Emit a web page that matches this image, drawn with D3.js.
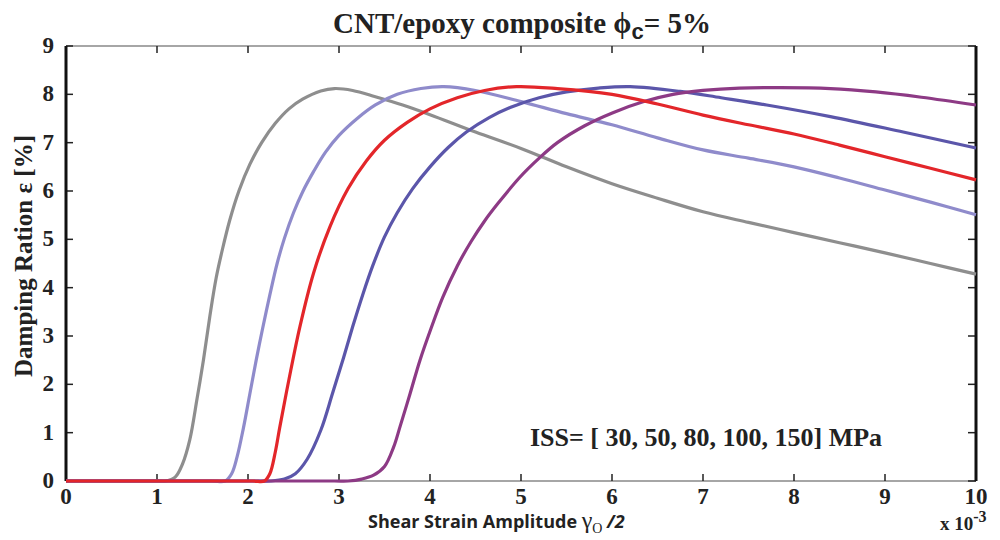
<!DOCTYPE html>
<html>
<head>
<meta charset="utf-8">
<script src="https://cdn.jsdelivr.net/npm/d3@7"></script>
<style>
  body { margin: 0; background: #fff; }
  .serif { font-family: "Times New Roman", "Liberation Serif", Times, serif; font-weight: bold; fill: #222; }
  .tick-label { font-size: 23px; }
</style>
</head>
<body>
<svg id="chart" width="1000" height="540"></svg>
<script>
// strain amplitude in units of 10^-3, damping ratio in %
let x30 = [0, 0.5, 1.0, 1.1, 1.2, 1.28, 1.36, 1.44, 1.51, 1.58, 1.65, 1.72, 1.8, 1.9, 2.02, 2.15, 2.3, 2.45, 2.6, 2.8, 2.95, 3.15, 3.4, 3.7, 4.0, 4.5, 5.0, 5.5, 6.0, 6.5, 7.0, 7.5, 8.0, 8.5, 9.0, 9.5, 10];
let y30 = [0, 0, 0, 0, 0.08, 0.35, 0.85, 1.7, 2.5, 3.4, 4.2, 4.8, 5.4, 6.0, 6.55, 7.0, 7.4, 7.7, 7.9, 8.07, 8.12, 8.08, 7.95, 7.78, 7.58, 7.22, 6.88, 6.5, 6.15, 5.85, 5.57, 5.35, 5.14, 4.93, 4.72, 4.5, 4.28];

let x50 = [0, 0.8, 1.6, 1.75, 1.82, 1.88, 1.95, 2.02, 2.09, 2.16, 2.24, 2.32, 2.4, 2.5, 2.6, 2.72, 2.85, 3.0, 3.2, 3.4, 3.64, 3.9, 4.15, 4.5, 5.0, 5.5, 6.0, 6.5, 7.0, 7.5, 8.0, 8.5, 9.0, 9.5, 10];
let y50 = [0, 0, 0, 0, 0.15, 0.5, 1.1, 1.8, 2.5, 3.15, 3.85, 4.5, 5.02, 5.55, 5.98, 6.4, 6.8, 7.15, 7.5, 7.78, 8.0, 8.12, 8.16, 8.08, 7.85, 7.6, 7.37, 7.1, 6.85, 6.68, 6.5, 6.27, 6.02, 5.77, 5.51];

let x80 = [0, 1.0, 2.05, 2.18, 2.24, 2.3, 2.35, 2.45, 2.57, 2.72, 2.9, 3.1, 3.3, 3.5, 3.75, 4.0, 4.3, 4.6, 4.95, 5.4, 6.0, 6.5, 7.0, 7.5, 8.0, 8.5, 9.0, 9.5, 10];
let y80 = [0, 0, 0, 0, 0.15, 0.6, 1.12, 2.1, 3.19, 4.3, 5.26, 6.05, 6.62, 7.05, 7.42, 7.7, 7.93, 8.08, 8.16, 8.12, 8.0, 7.8, 7.57, 7.37, 7.18, 6.95, 6.71, 6.47, 6.23];

let x100 = [0, 1.0, 2.1, 2.25, 2.4, 2.52, 2.65, 2.8, 2.93, 3.05, 3.15, 3.26, 3.37, 3.5, 3.64, 3.81, 4.0, 4.2, 4.4, 4.65, 4.91, 5.2, 5.5, 5.85, 6.2, 6.75, 7.2, 7.7, 8.4, 9.2, 10];
let y100 = [0, 0, 0, 0, 0.04, 0.15, 0.45, 1.05, 1.82, 2.55, 3.19, 3.85, 4.45, 5.05, 5.55, 6.05, 6.5, 6.9, 7.22, 7.52, 7.75, 7.93, 8.05, 8.13, 8.16, 8.06, 7.93, 7.78, 7.54, 7.22, 6.89];

let x150 = [0, 1.5, 2.95, 3.1, 3.25, 3.38, 3.5, 3.6, 3.67, 3.78, 3.89, 4.01, 4.14, 4.3, 4.45, 4.6, 4.75, 4.99, 5.2, 5.4, 5.7, 6.01, 6.35, 6.67, 7.0, 7.4, 7.85, 8.4, 8.9, 9.4, 10];
let y150 = [0, 0, 0, 0, 0.04, 0.12, 0.3, 0.7, 1.12, 1.8, 2.5, 3.15, 3.8, 4.45, 4.95, 5.38, 5.75, 6.29, 6.68, 7.0, 7.35, 7.62, 7.85, 8.0, 8.08, 8.13, 8.14, 8.12, 8.05, 7.94, 7.78];

let xTicks = [0, 1, 2, 3, 4, 5, 6, 7, 8, 9, 10];
let yTicks = [0, 1, 2, 3, 4, 5, 6, 7, 8, 9];

// drawing order: red last so it sits on top of the baseline
let series = [
  {xs: x30, ys: y30, color: "#8e8e8e"},
  {xs: x50, ys: y50, color: "#8f8bcb"},
  {xs: x100, ys: y100, color: "#5b56aa"},
  {xs: x150, ys: y150, color: "#8d3a85"},
  {xs: x80, ys: y80, color: "#e3262a"}
];

let margin = {top: 46, right: 24, bottom: 59, left: 66};
let svg = d3.select("#chart");
let width = 1000 - margin.left - margin.right;
let height = 540 - margin.top - margin.bottom;

let x = d3.scaleLinear().domain([0, 10]).range([0, width]);
let y = d3.scaleLinear().domain([0, 9]).range([height, 0]);

let g = svg.append("g").attr("transform", translate(margin.left, margin.top));

// box: thin grey top/bottom, thick black left/right
g.append("line").attr("x1", 0).attr("x2", width).attr("y1", 0).attr("y2", 0)
  .style("stroke", "#888").style("stroke-width", 1.5);
g.append("line").attr("x1", 0).attr("x2", width).attr("y1", height).attr("y2", height)
  .style("stroke", "#888").style("stroke-width", 1.5);

// ticks (inward)
g.selectAll(".xtb").data(xTicks).enter().append("line")
  .attr("x1", d => x(d)).attr("x2", d => x(d))
  .attr("y1", height).attr("y2", height - 7)
  .style("stroke", "#222").style("stroke-width", 1.5);
g.selectAll(".xtt").data(xTicks).enter().append("line")
  .attr("x1", d => x(d)).attr("x2", d => x(d))
  .attr("y1", 0).attr("y2", 7)
  .style("stroke", "#222").style("stroke-width", 1.5);
g.selectAll(".ytl").data(yTicks).enter().append("line")
  .attr("x1", 0).attr("x2", 7)
  .attr("y1", d => y(d)).attr("y2", d => y(d))
  .style("stroke", "#222").style("stroke-width", 1.5);
g.selectAll(".ytr").data(yTicks).enter().append("line")
  .attr("x1", width).attr("x2", width - 8)
  .attr("y1", d => y(d)).attr("y2", d => y(d))
  .style("stroke", "#222").style("stroke-width", 1.5);

g.append("line").attr("x1", 0).attr("x2", 0).attr("y1", 0).attr("y2", height)
  .style("stroke", "#111").style("stroke-width", 3);
g.append("line").attr("x1", width).attr("x2", width).attr("y1", 0).attr("y2", height)
  .style("stroke", "#111").style("stroke-width", 3);

// tick labels
g.selectAll(".xl").data(xTicks).enter().append("text")
  .attr("class", "serif tick-label")
  .attr("x", d => x(d)).attr("y", height + 23)
  .style("text-anchor", "middle")
  .text(d => d);
g.selectAll(".yl").data(yTicks).enter().append("text")
  .attr("class", "serif tick-label")
  .attr("x", -12).attr("y", d => y(d) + 7)
  .style("text-anchor", "end")
  .text(d => d);

// curves
let line = d3.line()
  .x(d => x(d[0]))
  .y(d => y(d[1]))
  .curve(d3.curveCatmullRom.alpha(0.5));

series.forEach(function(s) {
  let pts = s.xs.map((v, i) => [v, s.ys[i]]);
  g.append("path")
    .attr("d", line(pts))
    .style("fill", "none")
    .style("stroke", s.color)
    .style("stroke-width", 3.2)
    .style("stroke-linejoin", "round");
});

// title
let title = svg.append("text")
  .attr("class", "serif")
  .attr("x", 522).attr("y", 33)
  .style("text-anchor", "middle")
  .style("font-size", "29px");
title.append("tspan").text("CNT/epoxy composite  \u03d5");
title.append("tspan").attr("dy", 6).style("font-family", "Liberation Sans, sans-serif").style("font-size", "22px").text("c");
title.append("tspan").attr("dy", -6).text("= 5%");

// y label
svg.append("text")
  .attr("class", "serif")
  .attr("transform", "translate(32,256) rotate(-90)")
  .style("text-anchor", "middle")
  .style("font-size", "25px")
  .text("Damping Ration \u03b5  [%]");

// x label
let xl = svg.append("text")
  .attr("x", 368).attr("y", 528)
  .style("font-family", "Open Sans, sans-serif")
  .style("font-weight", "bold")
  .style("font-size", "18px")
  .style("fill", "#222");
xl.append("tspan").text("Shear Strain Amplitude ");
xl.append("tspan").style("font-family", "Liberation Serif, serif").style("font-weight", "normal").style("font-size", "24px").text("\u03b3");
xl.append("tspan").attr("dy", 5).style("font-family", "Liberation Serif, serif").style("font-weight", "normal").style("font-size", "14px").text("O");
xl.append("tspan").attr("dy", -5).style("font-style", "italic").text(" /2");

// multiplier
let mult = svg.append("text")
  .attr("class", "serif")
  .attr("x", 940).attr("y", 530)
  .style("font-size", "19px");
mult.append("tspan").text("x 10");
mult.append("tspan").attr("dy", -8).style("font-size", "16px").text("-3");

// annotation
svg.append("text")
  .attr("class", "serif")
  .attr("x", 530).attr("y", 446)
  .style("font-size", "26px")
  .text("ISS= [ 30, 50, 80, 100, 150] MPa");

function translate(x, y) {
  return "translate(" + x + "," + y + ")";
}
</script>
</body>
</html>
